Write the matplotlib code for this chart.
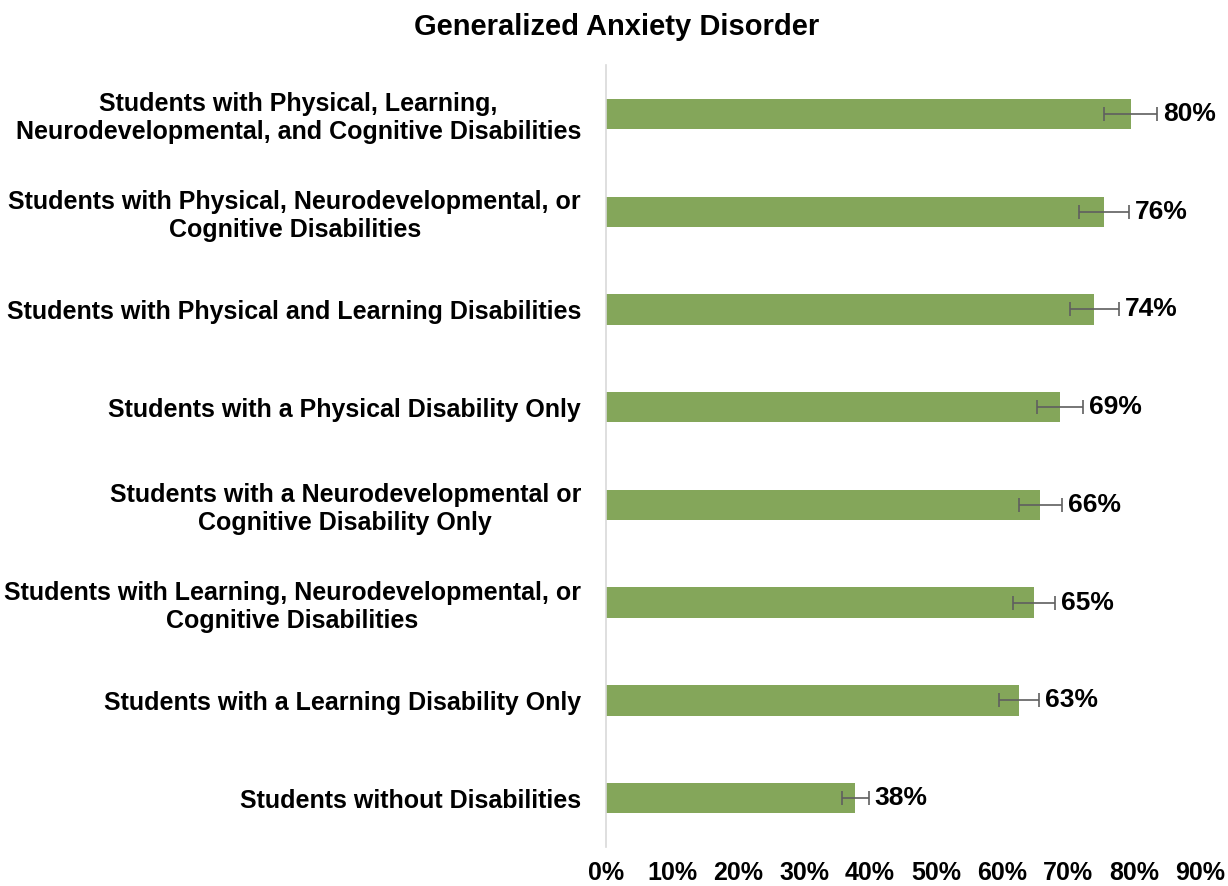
import numpy as np
import matplotlib
matplotlib.use("Agg")
import matplotlib.pyplot as plt

plt.rcParams['font.family'] = ['Liberation Sans', 'DejaVu Sans']

# data (top to bottom)
groups = [
    "Students with Physical, Learning,\nNeurodevelopmental, and Cognitive Disabilities",
    "Students with Physical, Neurodevelopmental, or\nCognitive Disabilities",
    "Students with Physical and Learning Disabilities",
    "Students with a Physical Disability Only",
    "Students with a Neurodevelopmental or\nCognitive Disability Only",
    "Students with Learning, Neurodevelopmental, or\nCognitive Disabilities",
    "Students with a Learning Disability Only",
    "Students without Disabilities",
]
values = [79.5, 75.5, 74.0, 68.8, 65.8, 64.8, 62.6, 37.8]
errors = [4.0, 3.8, 3.7, 3.5, 3.3, 3.2, 3.0, 2.0]
value_labels = ["80%", "76%", "74%", "69%", "66%", "65%", "63%", "38%"]
x_ticks = [0, 10, 20, 30, 40, 50, 60, 70, 80, 90]

bar_color = "#84A65A"
err_color = "#5F5F5F"

fig = plt.figure(figsize=(12.28, 8.86), dpi=100)
ax = fig.add_axes([0.4935, 0.0440, 0.4837, 0.8826])

y = np.arange(len(groups))
ax.barh(y, values, height=0.31, color=bar_color, zorder=2)
ax.errorbar(values, y, xerr=errors, fmt='none', ecolor=err_color,
            elinewidth=1.2, capsize=5, capthick=1.2, zorder=3)

for yi, v, e, lab in zip(y, values, errors, value_labels):
    ax.text(v + e + 0.9, yi, lab, va='center', ha='left',
            fontsize=19, fontweight='bold', color='black')

ax.set_ylim(len(groups) - 0.5, -0.5)
ax.set_xlim(0, 90)
ax.set_yticks(y)
ax.set_yticklabels(groups, fontsize=18, fontweight='bold')
for t in ax.get_yticklabels():
    t.set_multialignment('center')
    t.set_linespacing(1.2)
ax.set_xticks(x_ticks)
ax.set_xticklabels([f"{t}%" for t in x_ticks], fontsize=18, fontweight='bold')
ax.tick_params(axis='y', length=0, pad=18)
ax.tick_params(axis='x', length=0, pad=10)

for s in ['top', 'right', 'bottom']:
    ax.spines[s].set_visible(False)
ax.spines['left'].set_color('#D9D9D9')
ax.spines['left'].set_linewidth(1.2)

fig.text(0.5025, 0.970, "Generalized Anxiety Disorder", ha='center', va='center',
         fontsize=21, fontweight='bold')

fig.savefig("out.png", dpi=100)
